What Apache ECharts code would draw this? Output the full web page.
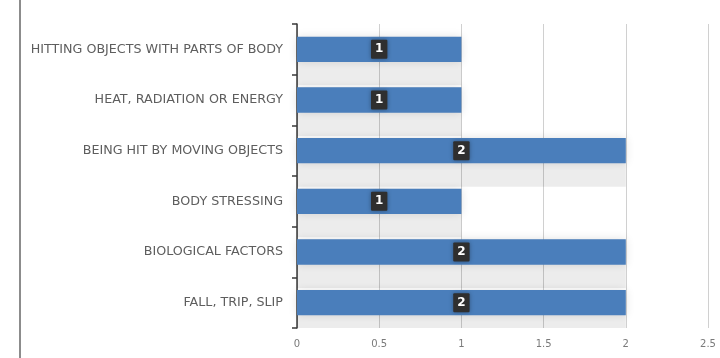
<!DOCTYPE html>
<html>
<head>
<meta charset="utf-8">
<script src="https://cdn.jsdelivr.net/npm/echarts@6/dist/echarts.min.js"></script>
<style>
  html, body { margin: 0; padding: 0; background: #ffffff; }
  #frame { position: absolute; left: 19px; top: 0; width: 2px; height: 358px; background: #8c8c8c; }
  #chart { width: 720px; height: 358px; }
</style>
</head>
<body>
<div id="frame"></div>
<div id="chart"></div>
<script>
// Injury mechanisms, listed bottom to top as drawn on the category axis
const categories = [
  'FALL, TRIP, SLIP',
  'BIOLOGICAL FACTORS',
  'BODY STRESSING',
  'BEING HIT BY MOVING OBJECTS',
  'HEAT, RADIATION OR ENERGY',
  'HITTING OBJECTS WITH PARTS OF BODY'
];
const counts = [2, 2, 1, 2, 1, 1];
const xTicks = [0, 0.5, 1, 1.5, 2, 2.5];

const chart = echarts.init(document.getElementById('chart'));
chart.setOption({
  animation: false,
  grid: { left: 297, right: 12, top: 24, bottom: 30, containLabel: false },
  xAxis: {
    type: 'value',
    min: xTicks[0],
    max: xTicks[xTicks.length - 1],
    interval: 0.5,
    axisLine: { show: false },
    axisTick: { show: false },
    splitLine: { show: true, lineStyle: { color: '#d0d0d0', width: 1 } },
    axisLabel: {
      color: '#7a7a7a',
      fontFamily: 'DejaVu Sans',
      fontSize: 10,
      margin: 11,
      formatter: v => String(v)
    }
  },
  yAxis: {
    type: 'category',
    data: categories,
    axisLine: { show: true, lineStyle: { color: '#3a3a3a', width: 1.5 } },
    axisTick: { show: true, length: 5, lineStyle: { color: '#3a3a3a', width: 1.5 } },
    axisLabel: {
      color: '#5e5e5e',
      fontFamily: 'DejaVu Sans',
      fontSize: 12.7,
      margin: 14
    }
  },
  series: [
    {
      // soft translucent grey glow spanning the band behind each bar
      type: 'bar',
      data: counts,
      barWidth: '96%',
      barGap: '-100%',
      silent: true,
      itemStyle: {
        color: 'rgba(0,0,0,0.075)',
        shadowColor: 'rgba(0,0,0,0.05)',
        shadowBlur: 14
      },
      z: 1
    },
    {
      type: 'bar',
      data: counts,
      barWidth: '50%',
      barGap: '-100%',
      itemStyle: {
        color: '#4a7ebb',
        shadowColor: 'rgba(0,0,0,0.12)',
        shadowBlur: 10
      },
      label: {
        show: true,
        position: 'inside',
        color: '#ffffff',
        fontFamily: 'DejaVu Sans',
        fontWeight: 'bold',
        fontSize: 12,
        backgroundColor: '#2f2f2f',
        padding: [4, 4, 3, 4],
        borderRadius: 1,
        shadowColor: 'rgba(0,0,0,0.35)',
        shadowBlur: 4
      },
      z: 3
    }
  ]
});
</script>
</body>
</html>
